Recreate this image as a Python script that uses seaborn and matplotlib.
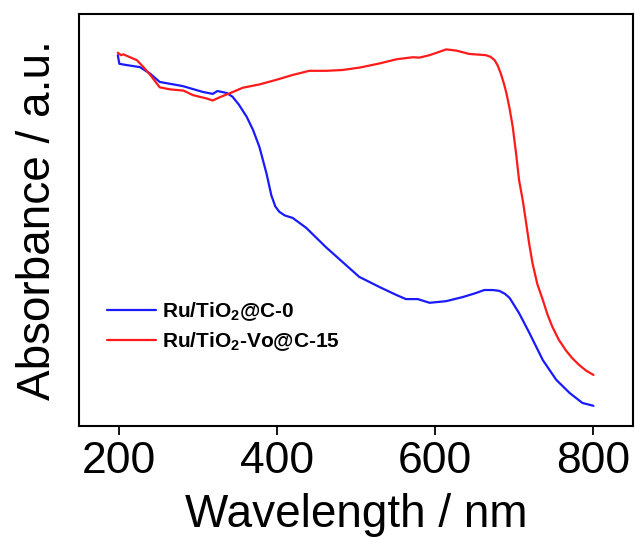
import matplotlib

matplotlib.use("Agg")

import matplotlib.pyplot as plt
import pandas as pd
import seaborn as sns

# Ru/TiO2@C-0 (wavelength nm, absorbance a.u.)
blue_nm = [199, 201, 210, 227, 240, 252, 281, 306, 319, 325, 337, 344, 352, 362, 370,
           378, 387, 393, 398, 403, 410, 420, 437, 462, 483, 504, 530, 551, 563, 578, 593,
           614, 635, 652, 662, 673, 681, 688, 694, 706, 719, 736, 753, 770, 786, 800]
blue_abs = [0.900, 0.879, 0.876, 0.871, 0.855, 0.835, 0.825, 0.811, 0.806, 0.813, 0.808,
            0.799, 0.780, 0.750, 0.718, 0.677, 0.612, 0.560, 0.533, 0.520, 0.511, 0.505,
            0.481, 0.434, 0.398, 0.362, 0.337, 0.318, 0.308, 0.308, 0.299, 0.303, 0.313,
            0.323, 0.330, 0.330, 0.328, 0.321, 0.311, 0.274, 0.226, 0.160, 0.112, 0.080,
            0.056, 0.049]

# Ru/TiO2-Vo@C-15
red_nm = [199, 203, 206, 223, 231, 240, 252, 265, 282, 294, 311, 319, 328, 341, 357, 378,
          399, 420, 441, 462, 483, 505, 530, 551, 572, 580, 593, 614, 627, 643, 664, 670,
          675, 679, 683, 687, 690, 694, 698, 702, 706, 711, 715, 719, 723, 729, 736, 742,
          748, 756, 765, 773, 782, 791, 800]
red_abs = [0.906, 0.900, 0.902, 0.888, 0.872, 0.852, 0.822, 0.817, 0.814, 0.803, 0.795,
           0.790, 0.798, 0.808, 0.821, 0.829, 0.840, 0.852, 0.862, 0.862, 0.864, 0.870,
           0.880, 0.890, 0.895, 0.894, 0.900, 0.914, 0.911, 0.903, 0.900, 0.896, 0.888,
           0.875, 0.855, 0.830, 0.808, 0.771, 0.726, 0.665, 0.597, 0.544, 0.492, 0.440,
           0.395, 0.345, 0.306, 0.270, 0.241, 0.210, 0.184, 0.165, 0.148, 0.134, 0.124]

labels = ["Ru/TiO$_\\mathbf{2}$@C-0", "Ru/TiO$_\\mathbf{2}$-Vo@C-15"]
colors = ["#1a1aff", "#ff1a1a"]

df = pd.concat([
    pd.DataFrame({"nm": blue_nm, "abs": blue_abs, "sample": labels[0]}),
    pd.DataFrame({"nm": red_nm, "abs": red_abs, "sample": labels[1]}),
])

sns.set_style("white")
plt.rcParams["font.family"] = ["Liberation Sans", "DejaVu Sans"]
plt.rcParams["mathtext.fontset"] = "custom"
plt.rcParams["mathtext.bf"] = "Liberation Sans:bold"
plt.rcParams["mathtext.rm"] = "Liberation Sans"
plt.rcParams["text.color"] = "black"
plt.rcParams["axes.labelcolor"] = "black"
plt.rcParams["xtick.color"] = "black"

fig = plt.figure(figsize=(6.35, 5.37), dpi=100)
ax = fig.add_axes([0.1244, 0.2067, 0.8725, 0.7673])

sns.lineplot(data=df, x="nm", y="abs", hue="sample", palette=colors,
             linewidth=1.6, sort=False, estimator=None, ax=ax)

ax.set_xlim(150, 850)
ax.set_ylim(0, 1)
ax.set_xticks([200, 400, 600, 800])
ax.set_yticks([])
ax.tick_params(axis="x", direction="out", length=6.5, width=1.3, pad=4,
               labelsize=32, bottom=True, top=False, colors="black")
ax.set_xlabel("Wavelength / nm", fontsize=33, labelpad=8)
ax.set_ylabel("Absorbance / a.u.", fontsize=33, labelpad=14)
for s in ax.spines.values():
    s.set_visible(True)
    s.set_color("black")
    s.set_linewidth(1.5)

leg = ax.legend(loc="center left", bbox_to_anchor=(0.05, 0.2415), frameon=False,
                prop={"size": 15, "weight": "bold"}, handlelength=2.35,
                handletextpad=0.3, labelspacing=0.35, borderpad=0, borderaxespad=0)
for t in leg.get_texts():
    t.set_color("black")

fig.savefig("out.png", dpi=100, facecolor="white")
